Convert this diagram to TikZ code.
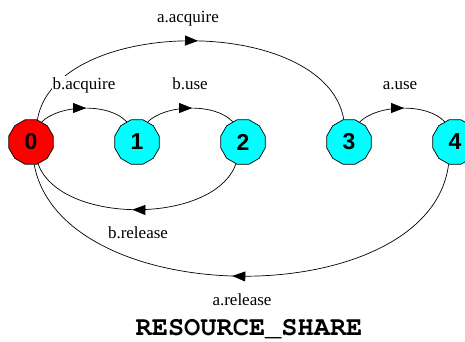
\documentclass[tikz,border=0pt]{standalone}
\usepackage{fontspec}
\setmainfont{Liberation Serif}
\newfontfamily\digitfont{Liberation Sans}
\usetikzlibrary{shapes.geometric,arrows.meta,decorations.markings}
\definecolor{stcyan}{RGB}{0,255,255}
\definecolor{stred}{RGB}{255,0,0}
\begin{document}
\begin{tikzpicture}[x=1pt,y=-1pt,
  state/.style={regular polygon,regular polygon sides=12,minimum size=46pt,inner sep=0pt,
    draw=black,line width=0.7pt,font=\digitfont\bfseries\fontsize{23}{23}\selectfont},
  lbl/.style={anchor=base,font=\fontsize{17}{17}\selectfont,inner sep=1pt},
  trans/.style={line width=0.7pt,postaction={decorate},
    decoration={markings,mark=at position 0.52 with {\arrow{Triangle[length=13pt,width=10pt]}}}}]
\useasboundingbox (0,0) rectangle (465,341);
\node[state,fill=stred] (n0) at (31,142) {0};
\node[state,fill=stcyan] (n1) at (137,142) {1};
\node[state,fill=stcyan] (n2) at (243,142) {2};
\node[state,fill=stcyan] (n3) at (349,142) {3};
\node[state,fill=stcyan] (n4) at (455,142) {4};
\draw[trans] (n0.74) .. controls +(18,-105) and +(-18,-105) .. (n3.103);
\draw[trans] (n0.62) .. controls +(18,-18) and +(-17,-19) .. (n1.117);
\draw[trans] (n1.62) .. controls +(18,-18) and +(-17,-19) .. (n2.117);
\draw[trans] (n3.62) .. controls +(18,-18) and +(-17,-19) .. (n4.117);
\draw[trans] (n2.-108) .. controls +(-22,61) and +(22,61) .. (n0.-72);
\draw[trans] (n4.-106) .. controls +(-19,149) and +(28,149) .. (n0.-82);
\node[lbl] (la) at (188,22) {a.acquire};
\node[lbl,fill=white] (lb) at (84,89) {b.acquire};
\node[lbl] (lc) at (190,89) {b.use};
\node[lbl] (ld) at (400,89) {a.use};
\node[lbl] (le) at (138,238) {b.release};
\node[lbl] (lf) at (242,305) {a.release};
\node[anchor=base,inner sep=0pt] (title) at (249,335)
  {\fontencoding{T1}\fontfamily{pcr}\fontseries{b}\fontsize{27}{27}\selectfont RESOURCE\_SHARE};
\end{tikzpicture}
\end{document}
